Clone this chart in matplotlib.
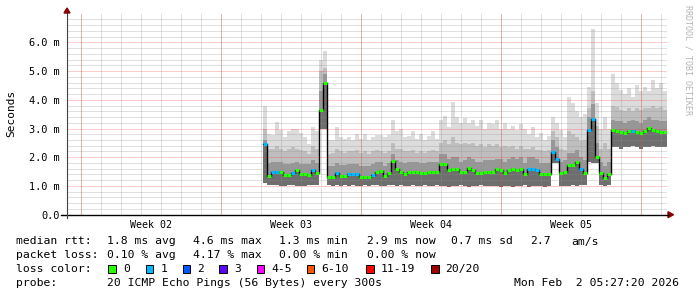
import numpy as np
import matplotlib.pyplot as plt
from matplotlib.lines import Line2D
from matplotlib.patches import Polygon, Rectangle

plt.rcParams['font.family'] = ['DejaVu Sans Mono']

# --- DATA (time in days from left edge of the 30 day window, values in ms) ---
T_START = 9.8      # first sample
T_STEP = 0.2       # one sample per step

median = [2.46, 1.35, 1.50, 1.50, 1.50, 1.39, 1.39, 1.46, 1.55, 1.40, 1.40, 1.38, 1.57, 1.45,
          3.64, 4.60,
          1.32, 1.32, 1.45, 1.35, 1.35, 1.40, 1.40, 1.40, 1.32, 1.32, 1.32, 1.38, 1.50, 1.52,
          1.33, 1.45, 1.88, 1.58, 1.48, 1.42, 1.50, 1.50, 1.50, 1.46, 1.46, 1.50, 1.48, 1.50,
          1.77, 1.77, 1.57, 1.60, 1.60, 1.48, 1.50, 1.62, 1.55, 1.45, 1.45, 1.50, 1.50, 1.50,
          1.58, 1.56, 1.44, 1.55, 1.60, 1.55, 1.60, 1.42, 1.60, 1.60, 1.55, 1.42, 1.42, 1.42,
          2.19, 1.93,
          1.45, 1.50, 1.73, 1.73, 1.85, 1.60, 1.45,
          2.95, 3.32, 2.02,
          1.45, 1.28, 1.40,
          2.95, 2.92, 2.88, 2.85, 2.90, 2.92, 2.88, 2.85, 2.92, 3.02, 2.95, 2.92, 2.88, 2.88]

loss = [1, 0, 1, 1, 0, 0, 0, 1, 0, 0, 0, 0, 1, 0,
        0, 0,
        0, 0, 1, 0, 0, 1, 1, 1, 0, 0, 0, 1, 0, 0,
        0, 0, 0, 0, 0, 0, 0, 0, 0, 0, 0, 0, 0, 0,
        0, 0, 0, 0, 0, 0, 0, 0, 0, 0, 0, 0, 0, 0,
        0, 0, 0, 0, 0, 0, 0, 0, 1, 1, 1, 0, 0, 0,
        1, 1,
        0, 0, 0, 0, 0, 1, 0,
        1, 1, 0,
        0, 0, 0,
        0, 0, 0, 0, 0, 1, 0, 0, 0, 0, 0, 0, 0, 0]

smoke_lo = [1.10, 1.05, 1.05, 1.05, 1.00, 1.00, 1.05, 1.05, 1.00, 1.00, 1.00, 1.05, 1.05, 1.05,
            3.00, 3.00,
            1.02, 1.00, 1.05, 1.00, 1.02, 1.00, 1.05, 1.00, 1.00, 1.02, 1.00, 1.05, 1.05, 1.00,
            1.00, 1.05, 1.05, 1.00, 1.02, 1.00, 1.00, 1.05, 1.00, 1.00, 1.02, 1.00, 1.00, 1.02,
            1.00, 1.00, 0.98, 1.00, 1.00, 1.02, 1.00, 0.98, 1.00, 1.00, 1.02, 1.00, 1.00, 1.00,
            1.00, 0.98, 1.00, 1.00, 0.98, 1.00, 1.00, 1.02, 0.98, 1.00, 1.00, 1.00, 0.98, 1.00,
            1.80, 1.80,
            1.00, 1.00, 1.00, 1.02, 1.00, 1.05, 1.05,
            1.85, 1.80, 1.80,
            1.05, 1.00, 1.05,
            2.35, 2.35, 2.30, 2.35, 2.35, 2.40, 2.35, 2.30, 2.35, 2.35, 2.40, 2.35, 2.35, 2.35]

smoke_core = [2.60, 1.80, 1.85, 1.85, 1.85, 1.75, 1.75, 1.80, 1.85, 1.75, 1.75, 1.75, 1.90, 1.80,
              4.30, 4.90,
              1.70, 1.70, 1.80, 1.72, 1.72, 1.75, 1.75, 1.75, 1.70, 1.70, 1.70, 1.75, 1.85, 1.85,
              1.70, 1.80, 2.10, 1.90, 1.85, 1.80, 1.85, 1.85, 1.85, 1.80, 1.80, 1.85, 1.85, 1.85,
              2.10, 2.10, 1.95, 2.00, 2.00, 1.85, 1.90, 2.00, 1.95, 1.85, 1.85, 1.90, 1.90, 1.90,
              1.95, 1.95, 1.85, 1.95, 2.00, 1.95, 2.00, 1.80, 2.00, 2.00, 1.95, 1.80, 1.80, 1.80,
              2.60, 2.35,
              1.85, 1.90, 2.15, 2.15, 2.25, 2.00, 1.90,
              3.40, 3.85, 2.50,
              1.85, 1.70, 1.85,
              3.30, 3.25, 3.25, 3.20, 3.25, 3.30, 3.25, 3.20, 3.30, 3.40, 3.30, 3.30, 3.25, 3.25]

smoke_mid = [3.00, 2.30, 2.30, 2.40, 2.30, 2.20, 2.30, 2.35, 2.30, 2.25, 2.20, 2.10, 2.40, 2.30,
             5.00, 5.10,
             2.10, 2.15, 2.30, 2.20, 2.15, 2.20, 2.20, 2.25, 2.15, 2.20, 2.10, 2.20, 2.25, 2.20,
             2.15, 2.20, 2.50, 2.30, 2.30, 2.20, 2.20, 2.25, 2.15, 2.20, 2.15, 2.20, 2.25, 2.20,
             2.50, 2.60, 2.45, 2.70, 2.50, 2.45, 2.50, 2.45, 2.50, 2.40, 2.45, 2.35, 2.45, 2.40,
             2.45, 2.35, 2.40, 2.35, 2.40, 2.30, 2.40, 2.30, 2.30, 2.35, 2.25, 2.25, 2.20, 2.25,
             2.90, 2.70,
             2.30, 2.25, 2.90, 2.80, 2.70, 2.55, 2.60,
             3.70, 4.30, 3.10,
             2.30, 2.50, 2.30,
             3.80, 3.75, 3.65, 3.60, 3.70, 3.60, 3.70, 3.65, 3.70, 3.70, 3.80, 3.70, 3.75, 3.65]

smoke_hi = [3.80, 2.80, 2.77, 3.24, 2.95, 2.72, 2.90, 3.00, 3.00, 2.83, 2.72, 2.45, 3.06, 2.90,
            5.40, 5.70,
            2.60, 2.60, 3.05, 2.70, 2.62, 2.72, 2.60, 2.80, 2.65, 2.80, 2.60, 2.70, 2.77, 2.77,
            2.70, 2.77, 3.30, 2.90, 3.00, 2.70, 2.75, 2.90, 2.65, 2.80, 2.60, 2.75, 2.90, 2.65,
            3.30, 3.45, 3.05, 3.93, 3.40, 3.20, 3.35, 3.20, 3.30, 3.10, 3.30, 3.00, 3.20, 3.15,
            3.30, 3.00, 3.20, 3.00, 3.10, 2.95, 3.15, 3.00, 2.80, 3.05, 2.70, 2.85, 2.60, 2.75,
            3.40, 3.20,
            2.95, 2.70, 4.10, 3.90, 3.60, 3.40, 3.50,
            4.45, 6.45, 3.90,
            3.00, 3.40, 3.00,
            4.90, 4.60, 4.35, 4.20, 4.40, 4.10, 4.50, 4.30, 4.45, 4.30, 4.70, 4.40, 4.60, 4.30]

loss_labels = ['0', '1', '2', '3', '4-5', '6-10', '11-19', '20/20']
loss_colors = ['#26ff00', '#00b8ff', '#0059ff', '#5e00ff', '#ff00ff', '#ff5500', '#ff0000', '#a10000']

week_starts = [0.7, 7.7, 14.7, 21.7, 28.7]
week_labels = ['Week 02', 'Week 03', 'Week 04', 'Week 05']

# --- FIGURE ---
W, H = 697, 297
fig = plt.figure(figsize=(W / 100, H / 100), dpi=100)
fig.patch.set_facecolor('white')


def fx(x):
    return x / W


def fy(y):
    return 1 - y / H


ax = fig.add_axes([fx(67), fy(214.7), 600 / W, 201.1 / H])
ax.set_xlim(0, 30)
ax.set_ylim(0, 7.0)
for s in ax.spines.values():
    s.set_visible(False)

n = len(median)
edges = T_START + T_STEP * np.arange(n + 1)


def ext(a):
    return np.append(a, a[-1])


# smoke, light outer band to dark inner band
ax.fill_between(edges, ext(smoke_lo), ext(smoke_hi), step='post', color='#dcdcdc', lw=0, zorder=1)
ax.fill_between(edges, ext(smoke_lo), ext(smoke_mid), step='post', color='#bebebe', lw=0, zorder=1)
ax.fill_between(edges, ext(smoke_lo), ext(smoke_core), step='post', color='#979797', lw=0, zorder=1)
ax.fill_between(edges, ext(smoke_lo), ext(median), step='post', color='#6e6e6e', lw=0, zorder=1)

# grid
dots = (0, (1, 1))
for v in np.arange(0.2, 7.0, 0.2):
    if abs(v - round(v)) > 0.01:
        ax.axhline(v, color='#909090', alpha=0.55, lw=0.72, ls=dots, zorder=2)
for v in range(1, 7):
    ax.axhline(v, color='#ff2020', alpha=0.45, lw=0.72, ls=dots, zorder=2)
for d in np.arange(week_starts[0], 30, 1.0):
    ax.axvline(d, color='#909090', alpha=0.55, lw=0.72, ls=dots, zorder=2)
for d in week_starts:
    ax.axvline(d, color='#ff2020', alpha=0.45, lw=0.72, ls=dots, zorder=2)

# median line coloured by loss
ax.step(edges, ext(median), where='post', color='black', lw=1.0, zorder=3)
ax.hlines(median, edges[:-1], edges[1:], colors=[loss_colors[l] for l in loss],
          lw=2.2, zorder=4)

# ticks
ax.set_yticks(range(7))
ax.set_yticklabels(['0.0'] + ['%d.0 m' % v for v in range(1, 7)])
ax.tick_params(axis='y', length=0, pad=5, labelsize=7.4)
ax.set_xticks([(a + b) / 2 for a, b in zip(week_starts[:-1], week_starts[1:])])
ax.set_xticklabels(week_labels)
ax.tick_params(axis='x', length=0, pad=3.5, labelsize=7.2)

fig.text(fx(11), fy(113), 'Seconds', rotation=90, ha='center', va='center', fontsize=8)
fig.text(fx(688), fy(5), 'RRDTOOL / TOBI OETIKER', rotation=270, ha='center', va='top',
         fontsize=6, color='#b4b4b4')

# axes lines and arrows
fig.add_artist(Line2D([fx(61), fx(668)], [fy(214.7), fy(214.7)], color='black', lw=1.0))
fig.add_artist(Line2D([fx(67), fx(67)], [fy(218), fy(12.7)], color='#404040', lw=0.8))
fig.add_artist(Polygon([[fx(668), fy(211.7)], [fx(673.5), fy(214.7)], [fx(668), fy(217.7)]],
                       closed=True, color='#8b0000'))
fig.add_artist(Polygon([[fx(64), fy(13)], [fx(67), fy(8)], [fx(70), fy(13)]],
                       closed=True, color='#8b0000'))

# legend
fs = 8.2
rows = [241.5, 255.3, 269.3, 283.3]
fig.text(fx(16), fy(rows[0]), 'median rtt:', fontsize=fs, va='center')
for x, s in zip([107.3, 193.3, 279.3, 366.5, 450.7, 530, 571.7],
                ['1.8 ms avg', '4.6 ms max', '1.3 ms min', '2.9 ms now', '0.7 ms sd', '2.7', 'am/s']):
    fig.text(fx(x), fy(rows[0]), s, fontsize=fs, va='center')

fig.text(fx(16), fy(rows[1]), 'packet loss:', fontsize=fs, va='center')
for x, s in zip([107.3, 193.3, 279.3, 366.5],
                ['0.10 % avg', '4.17 % max', '0.00 % min', '0.00 % now']):
    fig.text(fx(x), fy(rows[1]), s, fontsize=fs, va='center')

fig.text(fx(16), fy(rows[2]), 'loss color:', fontsize=fs, va='center')
for x, lab, col in zip([108.3, 145.7, 182.7, 219.3, 256.7, 306.7, 366, 431],
                       loss_labels, loss_colors):
    fig.add_artist(Rectangle((fx(x), fy(rows[2] + 4)), 7.5 / W, 8.5 / H,
                             facecolor=col, edgecolor='black', lw=0.7))
    fig.text(fx(x + 14.5), fy(rows[2]), lab, fontsize=fs, va='center')

fig.text(fx(16), fy(rows[3]), 'probe:', fontsize=fs, va='center')
fig.text(fx(107.3), fy(rows[3]), '20 ICMP Echo Pings (56 Bytes) every 300s', fontsize=fs, va='center')
fig.text(fx(514), fy(rows[3]), 'Mon Feb  2 05:27:20 2026', fontsize=fs, va='center')

fig.savefig('out.png', dpi=100)
